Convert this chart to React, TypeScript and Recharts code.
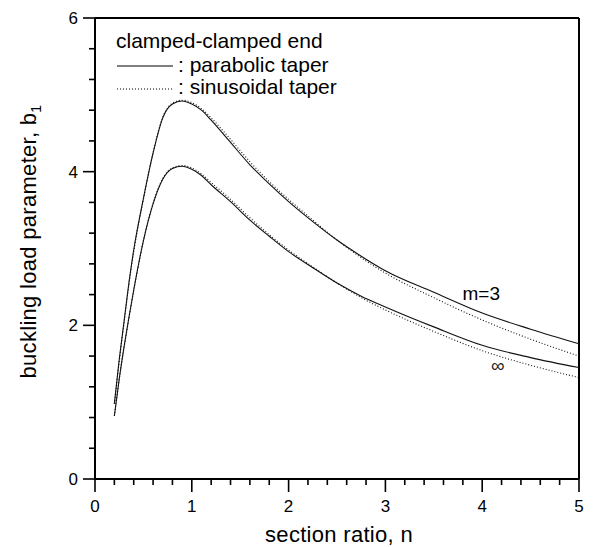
import React from "react";
import { LineChart, Line, XAxis, YAxis, ReferenceLine, ReferenceDot, Legend, Label } from "recharts";

// Valores de n (relación de sección)
const nValues = [0.2, 0.25, 0.3, 0.35, 0.4, 0.5, 0.6, 0.7, 0.8, 0.9, 1.0, 1.1, 1.2, 1.4, 1.6, 1.8, 2.0, 2.25, 2.5, 2.75, 3.0, 3.5, 4.0, 4.5, 5.0];

// m=3
const m3Parabolic = [0.98, 1.55, 2.05, 2.55, 2.98, 3.65, 4.24, 4.7, 4.88, 4.92, 4.88, 4.8, 4.67, 4.38, 4.09, 3.84, 3.61, 3.35, 3.11, 2.9, 2.71, 2.43, 2.16, 1.95, 1.76];
const m3Sinusoidal = [0.98, 1.53, 2.03, 2.53, 2.96, 3.64, 4.25, 4.71, 4.89, 4.93, 4.9, 4.82, 4.7, 4.42, 4.13, 3.87, 3.64, 3.37, 3.11, 2.88, 2.68, 2.36, 2.07, 1.82, 1.6];

// m=∞
const infParabolic = [0.82, 1.3, 1.72, 2.1, 2.46, 3.1, 3.58, 3.9, 4.04, 4.07, 4.03, 3.95, 3.83, 3.61, 3.37, 3.16, 2.96, 2.75, 2.55, 2.38, 2.24, 1.98, 1.74, 1.58, 1.45];
const infSinusoidal = [0.82, 1.29, 1.71, 2.09, 2.45, 3.1, 3.59, 3.91, 4.05, 4.08, 4.05, 3.97, 3.86, 3.64, 3.4, 3.18, 2.98, 2.76, 2.55, 2.36, 2.2, 1.92, 1.67, 1.48, 1.32];

// Marcas de los ejes
const xTicks = [0, 0.2, 0.4, 0.6, 0.8, 1, 1.2, 1.4, 1.6, 1.8, 2, 2.2, 2.4, 2.6, 2.8, 3, 3.2, 3.4, 3.6, 3.8, 4, 4.2, 4.4, 4.6, 4.8, 5];
const xLabels = [0, 1, 2, 3, 4, 5];
const yTicks = [0, 0.4, 0.8, 1.2, 1.6, 2, 2.4, 2.8, 3.2, 3.6, 4, 4.4, 4.8, 5.2, 5.6, 6];
const yLabels = [0, 2, 4, 6];

const FONT = '"Liberation Sans", Arial, Helvetica, sans-serif';

const data = nValues.map((n, i) => ({
  n,
  m3p: m3Parabolic[i],
  m3s: m3Sinusoidal[i],
  infp: infParabolic[i],
  infs: infSinusoidal[i],
}));

// Tick del eje X: marca larga y número en los enteros
const renderXTick = (props: any) => {
  const { x, y, payload } = props;
  const major = xLabels.includes(payload.value);
  return (
    <g>
      <line x1={x} x2={x} y1={y} y2={y + (major ? 13 : 6)} stroke="#000" strokeWidth={1.6} />
      {major && (
        <text x={x} y={y + 33} textAnchor="middle" fontSize={17} fontFamily={FONT} fill="#000">
          {payload.value}
        </text>
      )}
    </g>
  );
};

// Tick del eje Y
const renderYTick = (props: any) => {
  const { x, y, payload } = props;
  const major = yLabels.includes(payload.value);
  return (
    <g>
      <line x1={x} x2={x - (major ? 12 : 6)} y1={y} y2={y} stroke="#000" strokeWidth={1.6} />
      {major && (
        <text x={x - 17} y={y + 6} textAnchor="end" fontSize={17} fontFamily={FONT} fill="#000">
          {payload.value}
        </text>
      )}
    </g>
  );
};

const renderYLabel = (props: any) => {
  const vb = props.viewBox || { x: 0, y: 10, width: 87, height: 461 };
  const cx = vb.x + 28;
  const cy = vb.y + vb.height / 2 - 7;
  return (
    <text
      x={cx}
      y={cy}
      transform={`rotate(-90, ${cx}, ${cy})`}
      textAnchor="middle"
      fontSize={22}
      letterSpacing={0.3}
      fontFamily={FONT}
      fill="#000"
    >
      buckling load parameter, b<tspan dy={5} fontSize={14}>1</tspan>
    </text>
  );
};

const renderXLabel = (props: any) => {
  const vb = props.viewBox || { x: 87, y: 471, width: 484, height: 68 };
  return (
    <text
      x={vb.x + vb.width / 2 + 2}
      y={vb.y + 63}
      textAnchor="middle"
      fontSize={22}
      letterSpacing={0.3}
      fontFamily={FONT}
      fill="#000"
    >
      section ratio, n
    </text>
  );
};

// Leyenda dibujada a mano, como en la figura original
const renderLegend = () => (
  <svg width={250} height={75} style={{ display: "block" }}>
    <text x={8} y={18} fontSize={21} fontFamily={FONT} fill="#000">
      clamped-clamped end
    </text>
    <line x1={9} x2={65} y1={36} y2={36} stroke="#000" strokeWidth={1.1} />
    <text x={70} y={42} fontSize={21} fontFamily={FONT} fill="#000">
      : parabolic taper
    </text>
    <line x1={9} x2={65} y1={59} y2={59} stroke="#000" strokeWidth={1.1} strokeDasharray="1 2" />
    <text x={70} y={64} fontSize={21} fontFamily={FONT} fill="#000">
      : sinusoidal taper
    </text>
  </svg>
);

export default function App() {
  return (
    <div style={{ fontFamily: FONT }}>
      <LineChart width={586} height={539} data={data} margin={{ top: 10, right: 15, left: 0, bottom: 0 }}>
        <XAxis
          dataKey="n"
          type="number"
          domain={[0, 5]}
          ticks={xTicks}
          interval={0}
          tick={renderXTick}
          tickLine={false}
          tickSize={0}
          tickMargin={0}
          axisLine={{ stroke: "#000", strokeWidth: 2 }}
          height={68}
          allowDataOverflow
        >
          <Label content={renderXLabel} />
        </XAxis>
        <YAxis
          type="number"
          domain={[0, 6]}
          ticks={yTicks}
          interval={0}
          tick={renderYTick}
          tickLine={false}
          tickSize={0}
          tickMargin={0}
          axisLine={{ stroke: "#000", strokeWidth: 2 }}
          width={87}
          allowDataOverflow
        >
          <Label content={renderYLabel} />
        </YAxis>
        <ReferenceLine y={6} stroke="#000" strokeWidth={2} />
        <ReferenceLine x={5} stroke="#000" strokeWidth={2} />

        <Line dataKey="m3p" type="monotone" stroke="#111" strokeWidth={1.1} dot={false} isAnimationActive={false} />
        <Line dataKey="m3s" type="monotone" stroke="#111" strokeWidth={1.1} strokeDasharray="1 2" dot={false} isAnimationActive={false} />
        <Line dataKey="infp" type="monotone" stroke="#111" strokeWidth={1.1} dot={false} isAnimationActive={false} />
        <Line dataKey="infs" type="monotone" stroke="#111" strokeWidth={1.1} strokeDasharray="1 2" dot={false} isAnimationActive={false} />

        <ReferenceDot x={3.99} y={2.42} r={0} fill="none" stroke="none"
          label={{ value: "m=3", position: "center", fontSize: 19, fill: "#000", fontFamily: FONT }} />
        <ReferenceDot x={4.16} y={1.48} r={0} fill="none" stroke="none"
          label={{ value: "∞", position: "center", fontSize: 19, fill: "#222", fontFamily: FONT }} />

        <Legend
          layout="horizontal"
          verticalAlign="middle"
          align="center"
          content={renderLegend}
          wrapperStyle={{ left: 100, top: 22, width: "auto", height: "auto" }}
        />
      </LineChart>
    </div>
  );
}
